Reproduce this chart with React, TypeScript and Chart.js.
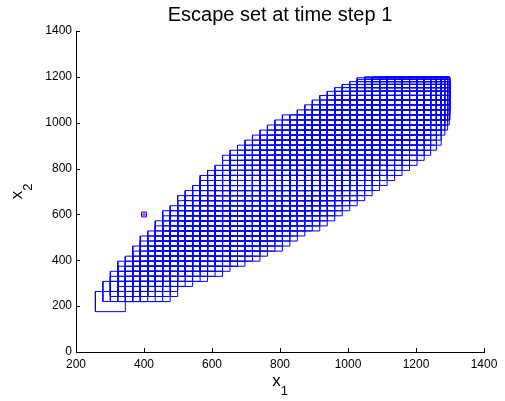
import React, { useEffect, useRef } from "react";
import { Chart, registerables } from "chart.js";

Chart.register(...registerables);

// ---- tick labels ----
const xTicks = [200, 400, 600, 800, 1000, 1200, 1400];
const yTicks = [0, 200, 400, 600, 800, 1000, 1200, 1400];

const TITLE = "Escape set at time step 1";

// ---- box grid (edges of the cells) ----
const xGrid = [
  257, 279, 301, 323, 345, 367, 389, 411, 433, 455, 477, 499, 521, 543, 565,
  587, 609, 631, 653, 675, 697, 719, 741, 763, 785, 807, 829, 851, 873, 895,
  917, 939, 961, 983, 1005, 1027, 1049, 1071, 1093, 1115, 1137, 1159, 1181,
  1203, 1224, 1243, 1260, 1274, 1285, 1293, 1298, 1300,
];
const yGrid = [
  176, 198, 220, 242, 264, 286, 308, 330, 352, 374, 396, 418, 440, 462, 484,
  506, 528, 550, 572, 594, 616, 638, 660, 682, 704, 726, 748, 770, 792, 814,
  836, 858, 880, 902, 924, 946, 968, 990, 1012, 1034, 1056, 1078, 1099, 1119,
  1137, 1153, 1167, 1179, 1189, 1196, 1200,
];
// each box covers CELL_SPAN grid steps in x and in y
const CELL_SPAN = 4;
// first / last box column of each row of boxes
const rowFirst = [
  0, 1, 1, 2, 2, 3, 3, 4, 5, 5, 6, 6, 7, 8, 8, 9, 9, 10, 11, 11, 12, 13, 14,
  14, 15, 16, 17, 17, 18, 19, 20, 21, 22, 23, 24, 25, 27, 28, 29, 30, 31, 32,
  33, 34, 35, 35, 36,
];
const rowLast = [
  0, 0, 6, 7, 7, 9, 11, 13, 14, 16, 18, 19, 21, 22, 23, 24, 26, 27, 28, 29,
  30, 31, 32, 33, 34, 35, 36, 37, 38, 39, 40, 41, 42, 43, 43, 44, 45, 46, 47,
  47, 47, 47, 47, 47, 47, 47, 47,
];

// small marked state
const markerX = [400];
const markerY = [600];

const FONT = '"Liberation Sans", Arial, Helvetica, sans-serif';

function buildBoxes() {
  const pts: { x: number; y: number | null }[] = [];
  for (let j = 0; j < rowFirst.length; j++) {
    const yb = yGrid[j];
    const yt = yGrid[j + CELL_SPAN];
    for (let i = rowFirst[j]; i <= rowLast[j]; i++) {
      const xl = xGrid[i];
      const xr = xGrid[i + CELL_SPAN];
      pts.push(
        { x: xl, y: yb },
        { x: xr, y: yb },
        { x: xr, y: yt },
        { x: xl, y: yt },
        { x: xl, y: yb },
        { x: xl, y: null }
      );
    }
  }
  return pts;
}

const decorPlugin = {
  id: "decor",
  afterDraw(chart: any) {
    const { ctx, chartArea: a, scales } = chart;
    ctx.save();
    // inward tick marks
    ctx.strokeStyle = "#000";
    ctx.lineWidth = 1;
    ctx.beginPath();
    for (const v of xTicks) {
      const px = Math.round(scales.x.getPixelForValue(v)) + 0.5;
      ctx.moveTo(px, a.bottom);
      ctx.lineTo(px, a.bottom - 4);
    }
    for (const v of yTicks) {
      const py = Math.round(scales.y.getPixelForValue(v)) + 0.5;
      ctx.moveTo(a.left, py);
      ctx.lineTo(a.left + 4, py);
    }
    ctx.stroke();

    ctx.fillStyle = "#000";
    // title
    ctx.font = `20px ${FONT}`;
    ctx.textAlign = "center";
    ctx.textBaseline = "alphabetic";
    ctx.fillText(TITLE, (a.left + a.right) / 2, 21);

    // x label: x_1
    ctx.textAlign = "left";
    ctx.font = `17px ${FONT}`;
    const wx = ctx.measureText("x").width;
    ctx.font = `13px ${FONT}`;
    const w1 = ctx.measureText("1").width;
    const cx = (a.left + a.right) / 2;
    const sx = cx - (wx + w1) / 2;
    ctx.font = `17px ${FONT}`;
    ctx.fillText("x", sx, 386);
    ctx.font = `13px ${FONT}`;
    ctx.fillText("1", sx + wx, 395);

    // y label: x_2 (rotated)
    const cy = (a.top + a.bottom) / 2;
    ctx.font = `13px ${FONT}`;
    const w2 = ctx.measureText("2").width;
    ctx.translate(22, cy + (wx + w2) / 2);
    ctx.rotate(-Math.PI / 2);
    ctx.font = `17px ${FONT}`;
    ctx.fillText("x", 0, 0);
    ctx.font = `13px ${FONT}`;
    ctx.fillText("2", wx, 10);
    ctx.restore();
  },
};

export default function App() {
  const ref = useRef<HTMLCanvasElement | null>(null);
  useEffect(() => {
    document.body.style.margin = "0";
    const canvas = ref.current;
    if (!canvas) return;
    const marker = markerX.map((x, k) => ({ x, y: markerY[k] }));
    const chart = new Chart(canvas, {
      type: "scatter",
      data: {
        datasets: [
          {
            data: buildBoxes() as any,
            showLine: true,
            spanGaps: false,
            borderColor: "#0000ff",
            borderWidth: 1,
            pointRadius: 0,
            fill: false,
          } as any,
          {
            data: marker,
            pointStyle: "rect",
            pointRadius: 3.5,
            borderColor: "#0000ff",
            backgroundColor: "rgba(0,0,0,0)",
            borderWidth: 1,
          } as any,
          {
            data: marker,
            pointStyle: "circle",
            pointRadius: 1.5,
            borderColor: "#ff00ff",
            backgroundColor: "#ff00ff",
            borderWidth: 0.5,
          } as any,
        ],
      },
      options: {
        responsive: false,
        devicePixelRatio: 1,
        animation: false,
        events: [],
        layout: { padding: { top: 31, right: 21, left: 0, bottom: 0 } },
        plugins: {
          legend: { display: false },
          tooltip: { enabled: false },
          title: { display: false },
        },
        scales: {
          x: {
            type: "linear",
            min: 200,
            max: 1400,
            afterBuildTicks: (s: any) => {
              s.ticks = xTicks.map((v) => ({ value: v }));
            },
            afterFit: (s: any) => {
              s.height = 49;
            },
            ticks: {
              color: "#000",
              padding: 5,
              maxRotation: 0,
              autoSkip: false,
              callback: (v: any) => String(v),
              font: { family: FONT, size: 12 },
            },
            grid: { display: false, drawTicks: false },
            border: { display: true, color: "#000", width: 1 },
          },
          y: {
            type: "linear",
            min: 0,
            max: 1400,
            afterBuildTicks: (s: any) => {
              s.ticks = yTicks.map((v) => ({ value: v }));
            },
            afterFit: (s: any) => {
              s.width = 76;
            },
            ticks: {
              color: "#000",
              padding: 4,
              autoSkip: false,
              callback: (v: any) => String(v),
              font: { family: FONT, size: 12 },
            },
            grid: { display: false, drawTicks: false },
            border: { display: true, color: "#000", width: 1 },
          },
        },
      } as any,
      plugins: [decorPlugin],
    });
    return () => chart.destroy();
  }, []);
  return (
    <div style={{ position: "absolute", left: 0, top: 0, width: 505, height: 401, background: "#fff" }}>
      <canvas ref={ref} width={505} height={401} style={{ display: "block" }} />
    </div>
  );
}
